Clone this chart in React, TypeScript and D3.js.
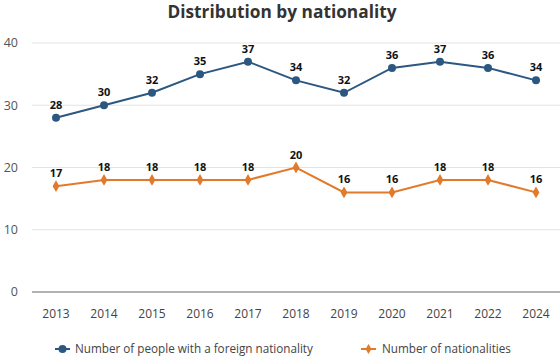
import React from "react";
import * as d3 from "d3";

const years = ["2013", "2014", "2015", "2016", "2017", "2018", "2019", "2020", "2021", "2022", "2024"];
const foreignPeople = [28, 30, 32, 35, 37, 34, 32, 36, 37, 36, 34];
const nationalities = [17, 18, 18, 18, 18, 20, 16, 16, 18, 18, 16];
const yTicks = [0, 10, 20, 30, 40];
const seriesNames = ["Number of people with a foreign nationality", "Number of nationalities"];

const W = 560, H = 358;
const FONT = "'Segoe UI', 'Open Sans', 'Noto Sans', sans-serif";
const BLUE = "#2b5780";
const ORANGE = "#e27a2c";

export default function App() {
  const x = d3.scaleBand<string>().domain(years).range([32, 560]);
  const cx = (d: string) => (x(d) as number) + x.bandwidth() / 2;
  const y = d3.scaleLinear().domain([0, 40]).range([292, 43]);
  const line = d3.line<number>().x((_, i) => cx(years[i])).y((v) => y(v));
  const diamond = d3.symbol().type(d3.symbolDiamond).size(40)();
  const legendDiamond = d3.symbol().type(d3.symbolDiamond).size(30)();

  return (
    <svg width={W} height={H} style={{ position: "absolute", left: 0, top: 0 }} fontFamily={FONT}>
      <rect width={W} height={H} fill="#fff" />
      <text x={282} y={18} textAnchor="middle" fontSize={17.3} fontWeight={700} fill="#333">
        Distribution by nationality
      </text>
      {yTicks.map((t) => (
        <g key={t}>
          {t !== 0 && <line x1={32} x2={560} y1={y(t)} y2={y(t)} stroke="#e3e3e3" strokeWidth={1} />}
          <text x={18} y={y(t)} dy="0.35em" textAnchor="end" fontSize={12.5} fill="#555">{t}</text>
        </g>
      ))}
      <line x1={32} x2={560} y1={y(0)} y2={y(0)} stroke="#999" strokeWidth={1.5} />
      {years.map((yr) => (
        <text key={yr} x={cx(yr)} y={318} textAnchor="middle" fontSize={12} fill="#444">{yr}</text>
      ))}
      <path d={line(foreignPeople) as string} fill="none" stroke={BLUE} strokeWidth={2} />
      {foreignPeople.map((v, i) => (
        <g key={"a" + i}>
          <circle cx={cx(years[i])} cy={y(v)} r={4} fill={BLUE} />
          <text x={cx(years[i])} y={y(v) - 9} textAnchor="middle" fontSize={11} fontWeight={700} fill="#111">{v}</text>
        </g>
      ))}
      <path d={line(nationalities) as string} fill="none" stroke={ORANGE} strokeWidth={2} />
      {nationalities.map((v, i) => (
        <g key={"b" + i}>
          <path d={diamond as string} transform={`translate(${cx(years[i])},${y(v)})`} fill={ORANGE} />
          <text x={cx(years[i])} y={y(v) - 9} textAnchor="middle" fontSize={11} fontWeight={700} fill="#111">{v}</text>
        </g>
      ))}
      <g>
        <line x1={55} x2={70} y1={349} y2={349} stroke={BLUE} strokeWidth={2} />
        <circle cx={62.5} cy={349} r={4} fill={BLUE} />
        <text x={75} y={349} dy="0.35em" fontSize={11.7} fill="#444">{seriesNames[0]}</text>
        <line x1={361} x2={376} y1={349} y2={349} stroke={ORANGE} strokeWidth={2} />
        <path d={legendDiamond as string} transform="translate(368.5,349)" fill={ORANGE} />
        <text x={382} y={349} dy="0.35em" fontSize={11.7} fill="#444">{seriesNames[1]}</text>
      </g>
    </svg>
  );
}
